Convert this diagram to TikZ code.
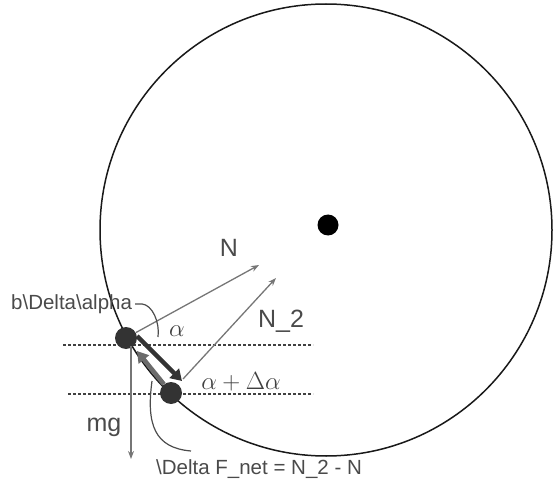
\documentclass[tikz,border=0pt]{standalone}
\usepackage{fontspec}
\setmainfont{Liberation Sans}
\usetikzlibrary{arrows.meta}
\definecolor{txtgray}{HTML}{4A4A4A}
\definecolor{vecgray}{HTML}{767676}
\tikzset{
  wheelline/.style={draw=black!90, line width=1.5pt},
  vec/.style={draw=vecgray, line width=1.3pt, -{Stealth[length=8pt,width=6pt]}},
  dashline/.style={draw=black!75, line width=1.4pt, dash pattern=on 3pt off 2pt},
  ball/.style={circle, fill=black!80, minimum size=22pt, inner sep=0pt},
  bigarrow/.style={line width=4.5pt, -{Triangle[length=11pt,width=13pt]}},
  smalltxt/.style={text=txtgray, font=\fontsize{20.5}{22}\selectfont, inner sep=0pt},
  bigtxt/.style={text=txtgray, font=\fontsize{25}{27}\selectfont, inner sep=0pt},
  mathtxt/.style={text=black!75, font=\fontsize{23}{25}\selectfont, inner sep=0pt},
  thinline/.style={draw=black!70, line width=1.2pt}
}
\begin{document}
\begin{tikzpicture}[x=1pt,y=-1pt]
\useasboundingbox (0,0) rectangle (554,489);
% wheel and centre
\node[wheelline, circle, minimum size=452pt, inner sep=0pt] (wheel) at (326,230) {};
\node[circle, fill=black, minimum size=21pt, inner sep=0pt] (ctr) at (328,225) {};
% reference coordinates
\coordinate (d1a) at (63,345);
\coordinate (d1b) at (313,345);
\coordinate (d2a) at (68,394);
\coordinate (d2b) at (313,394);
\coordinate (Ntip) at (259,265);
\coordinate (N2s) at (183,379);
\coordinate (N2tip) at (276,278);
\coordinate (mgs) at (131,346);
\coordinate (mgtip) at (131,459);
\coordinate (dks) at (137,336);
\coordinate (dke) at (182,381);
\coordinate (gye) at (137,351);
% dashed level lines
\draw[dashline] (d1a) -- (d1b);
\draw[dashline] (d2a) -- (d2b);
% balls
\node[ball] (b1) at (126,338) {};
\node[ball] (b2) at (171,393) {};
% force vectors
\draw[vec] (b1) -- (Ntip);
\draw[vec] (N2s) -- (N2tip);
\draw[vec] (mgs) -- (mgtip);
% thick arrows
\draw[bigarrow, draw=black!80, fill=black!80] (dks) -- (dke);
\draw[bigarrow, draw=black!58, fill=black!58] (b2) -- (gye);
% labels
\node[smalltxt, anchor=west] (lbda) at (11,304) {b\textbackslash Delta\textbackslash alpha};
\node[bigtxt] (lN) at (229,248) {N};
\node[bigtxt] (lN2) at (281,321) {N\_2};
\node[bigtxt] (lmg) at (104,427) {mg};
\node[mathtxt] (la) at (177,331) {$\alpha$};
\node[mathtxt] (lada) at (241,382) {$\alpha+\Delta\alpha$};
\node[smalltxt, anchor=west] (lF) at (156,469) {\textbackslash Delta F\_net = N\_2 - N};
% brackets
\coordinate (brs) at (158,337);
\coordinate (fcs) at (152,381);
\coordinate (fce) at (191,451);
\draw[thinline] ([xshift=3pt]lbda.east) -- ++(7,0) .. controls +(10,1) and (160,322) .. (brs);
\draw[thinline] (fcs) .. controls (146,425) and (155,448) .. (fce);
\end{tikzpicture}
\end{document}
